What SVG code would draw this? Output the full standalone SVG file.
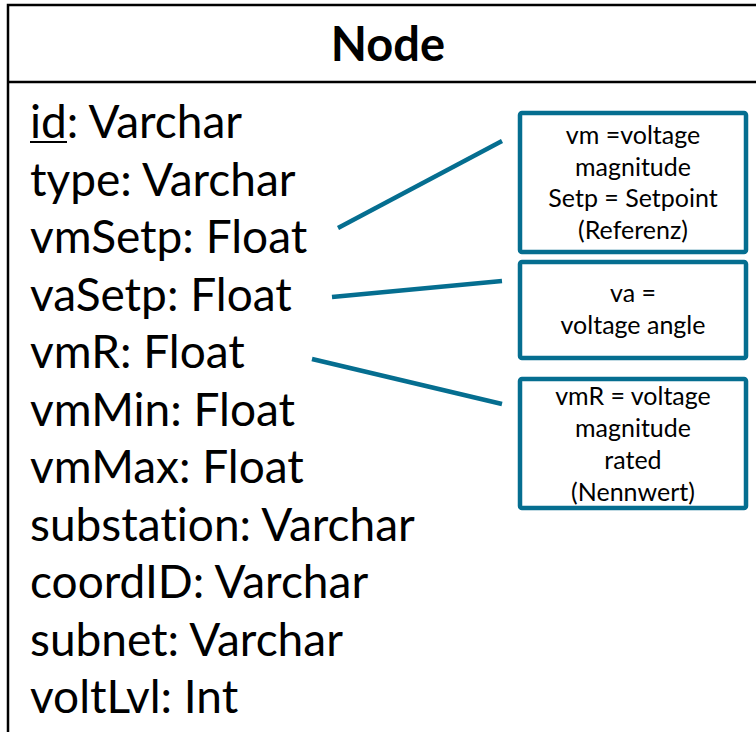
<svg xmlns="http://www.w3.org/2000/svg" width="756" height="732" viewBox="0 0 756 732">
  <style>
    text { font-variant-ligatures: none; }
    .cls { fill: #ffffff; stroke: #000000; stroke-width: 2.5; }
    .attr { font-family: Lato, "Liberation Sans", sans-serif; font-size: 46px; fill: #000000; }
    .title { font-family: Lato, "Liberation Sans", sans-serif; font-size: 47px; font-weight: bold; fill: #000000; }
    .note { fill: #ffffff; stroke: #056e90; stroke-width: 4.5; }
    .note-text { font-family: Lato, "Liberation Sans", sans-serif; font-size: 25px; fill: #000000; text-anchor: middle; }
    .link { stroke: #056e90; stroke-width: 4.5; fill: none; }
  </style>

  <rect width="756" height="732" fill="#ffffff"/>

  <!-- UML class: Node -->
  <g id="node-class">
    <rect class="cls" x="8" y="5" width="760" height="740"/>
    <line class="cls" x1="8" y1="82" x2="768" y2="82"/>
    <text class="title" x="388" y="61" text-anchor="middle">Node</text>
    <text class="attr" x="30" y="138">id: Varchar</text>
    <line x1="30" y1="142" x2="67" y2="142" stroke="#000" stroke-width="2"/>
    <text class="attr" x="30" y="195.5">type: Varchar</text>
    <text class="attr" x="30" y="253">vmSetp: Float</text>
    <text class="attr" x="30" y="310.5">vaSetp: Float</text>
    <text class="attr" x="30" y="368">vmR: Float</text>
    <text class="attr" x="30" y="425.5">vmMin: Float</text>
    <text class="attr" x="30" y="483">vmMax: Float</text>
    <text class="attr" x="30" y="540.5">substation: Varchar</text>
    <text class="attr" x="30" y="598">coordID: Varchar</text>
    <text class="attr" x="30" y="655.5">subnet: Varchar</text>
    <text class="attr" x="30" y="713">voltLvl: Int</text>
  </g>

  <!-- note: vm / Setp -->
  <g id="note-vmsetp">
    <rect class="note" x="520" y="113" width="226" height="139" rx="2"/>
    <text class="note-text" x="633" y="144">vm =voltage</text>
    <text class="note-text" x="633" y="175.5">magnitude</text>
    <text class="note-text" x="633" y="207">Setp = Setpoint</text>
    <text class="note-text" x="633" y="238.5">(Referenz)</text>
  </g>

  <!-- note: va -->
  <g id="note-vasetp">
    <rect class="note" x="520" y="262" width="226" height="96" rx="2"/>
    <text class="note-text" x="633" y="302">va =</text>
    <text class="note-text" x="633" y="334">voltage angle</text>
  </g>

  <!-- note: vmR -->
  <g id="note-vmr">
    <rect class="note" x="520" y="379" width="226" height="129" rx="2"/>
    <text class="note-text" x="633" y="405">vmR = voltage</text>
    <text class="note-text" x="633" y="437">magnitude</text>
    <text class="note-text" x="633" y="469">rated</text>
    <text class="note-text" x="633" y="501">(Nennwert)</text>
  </g>

  <!-- connectors from attributes to their notes -->
  <g id="connectors">
    <line class="link" x1="338" y1="228" x2="502" y2="141"/>
    <line class="link" x1="332" y1="297" x2="502" y2="281"/>
    <line class="link" x1="312" y1="359" x2="502" y2="404"/>
  </g>
</svg>
